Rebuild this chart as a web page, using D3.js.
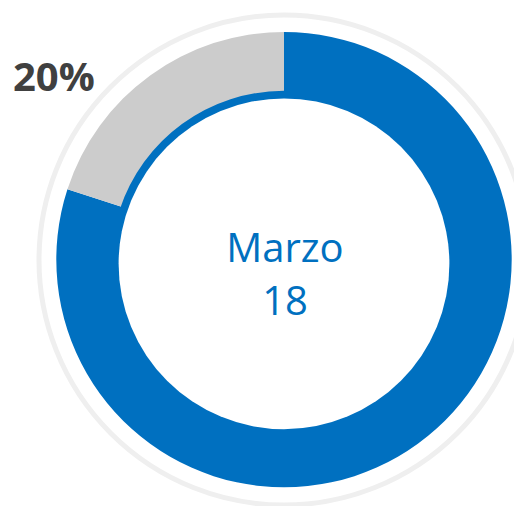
<!DOCTYPE html>
<html>
<head>
<meta charset="utf-8">
<script src="https://cdn.jsdelivr.net/npm/d3@7"></script>
<style>
  html, body { margin: 0; padding: 0; background: #ffffff; }
  svg { display: block; }
</style>
</head>
<body>
<script>
// ---- data ----
const categories = ["Completado", "Pendiente"];
const values = [80, 20];
const sliceColors = ["#0070C0", "#CCCCCC"];
const centerLines = ["Marzo", "18"];
const pctLabel = "20%";

const W = 514, H = 506;
const svg = d3.select("body").append("svg").attr("width", W).attr("height", H);

// outer decorative ring
svg.append("circle")
  .attr("cx", 284).attr("cy", 260).attr("r", 245)
  .attr("fill", "none").attr("stroke", "#EFEFEF").attr("stroke-width", 5);

const pie = d3.pie().sort(null).value(d => d.value);
const data = pie(categories.map((c, i) => ({ cat: c, value: values[i] })));

// outer shape of the doughnut
const gOuter = svg.append("g").attr("transform", "translate(284,259.6)");
const arcOuter = d3.arc().innerRadius(140).outerRadius(227.7);
gOuter.selectAll("path.slice")
  .data(data).enter().append("path")
  .attr("class", "slice")
  .attr("d", arcOuter)
  .attr("fill", (d, i) => sliceColors[i]);

// inner edge of the doughnut
const gInner = svg.append("g").attr("transform", "translate(284,263.8)");
const arcStrip = d3.arc().innerRadius(150).outerRadius(173);
gInner.selectAll("path.strip")
  .data(data.filter((d, i) => i === 1)).enter().append("path")
  .attr("class", "strip")
  .attr("d", arcStrip)
  .attr("fill", sliceColors[0]);
gInner.append("circle").attr("r", 165.4).attr("fill", "#ffffff");

// center text
const ct = svg.append("g").attr("font-family", "'Open Sans', Lato, sans-serif")
  .attr("fill", "#0070C0").attr("font-size", 40).attr("text-anchor", "middle");
ct.selectAll("text").data(centerLines).enter().append("text")
  .attr("x", 285)
  .attr("y", (d, i) => 261.7 + i * 53.3)
  .text(d => d);

// percentage label
svg.append("text")
  .attr("x", 13).attr("y", 90.7)
  .attr("font-family", "'Open Sans', Lato, sans-serif")
  .attr("font-weight", "bold").attr("font-size", 40)
  .attr("fill", "#404040")
  .text(pctLabel);
</script>
</body>
</html>
